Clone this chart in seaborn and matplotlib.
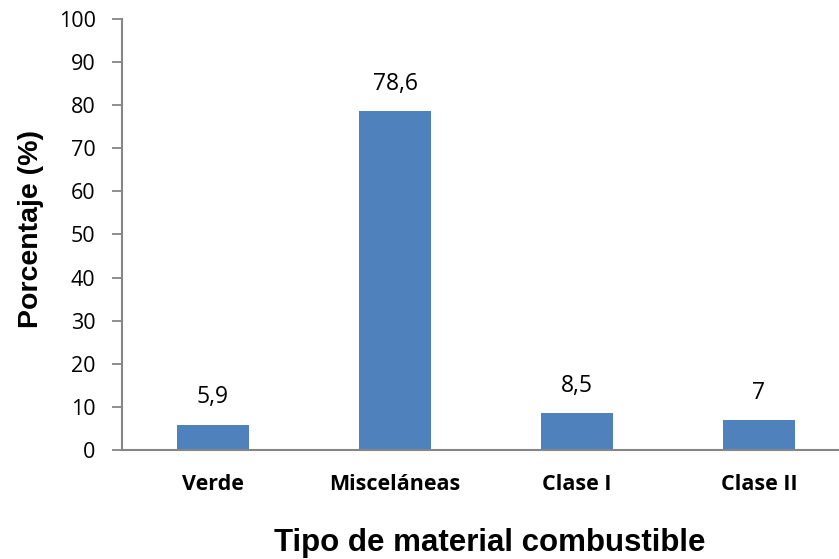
import matplotlib
matplotlib.use("Agg")
import matplotlib.pyplot as plt
import seaborn as sns
import pandas as pd

categorias = ["Verde", "Misceláneas", "Clase I", "Clase II"]
porcentajes = [5.9, 78.6, 8.5, 7.0]
etiquetas = ["5,9", "78,6", "8,5", "7"]
y_ticks = [0, 10, 20, 30, 40, 50, 60, 70, 80, 90, 100]

sns.set_style("white")
plt.rcParams["font.family"] = ["Open Sans", "DejaVu Sans"]
plt.rcParams["text.color"] = "black"
plt.rcParams["axes.labelcolor"] = "black"
plt.rcParams["xtick.color"] = "black"
plt.rcParams["ytick.color"] = "black"

df = pd.DataFrame({"tipo": categorias, "pct": porcentajes})

fig = plt.figure(figsize=(8.39, 5.59), dpi=100)
ax = fig.add_axes([122 / 839, 1 - 450 / 559, 728 / 839, 431 / 559])

sns.barplot(data=df, x="tipo", y="pct", color="#4F81BD", saturation=1,
            width=0.4, ax=ax, edgecolor="none")

ax.set_ylim(0, 100)
ax.set_xlim(-0.5, 3.5)
ax.set_yticks(y_ticks)
ax.set_yticklabels([str(t) for t in y_ticks], fontsize=15.5)
ax.set_xticks(range(len(categorias)))
ax.set_xticklabels(categorias, fontsize=15.5, fontweight="bold")
ax.tick_params(axis="y", length=7, width=1.3, color="#868686", labelcolor="black",
               pad=12, direction="out", left=True)
ax.tick_params(axis="x", length=0, pad=17, labelcolor="black")

for side in ["top", "right"]:
    ax.spines[side].set_visible(False)
for side in ["left", "bottom"]:
    ax.spines[side].set_color("#868686")
    ax.spines[side].set_linewidth(1.5)

for i, (v, lab) in enumerate(zip(porcentajes, etiquetas)):
    ax.annotate(lab, (i, v), xytext=(0, 11), textcoords="offset points",
                ha="center", va="bottom", fontsize=16.5, color="black")

ax.set_xlabel("Tipo de material combustible", fontsize=22.5, fontweight="bold",
              family="Liberation Sans", labelpad=0, va="center", color="black")
ax.xaxis.set_label_coords((490 - 122) / 728, -(543 - 450) / 431)
ax.set_ylabel("Porcentaje (%)", fontsize=20.5, fontweight="bold",
              family="Liberation Sans", va="center", color="black")
ax.yaxis.set_label_coords(-(122 - 31) / 728, (450 - 229) / 431)

fig.savefig("out.png", dpi=100)
